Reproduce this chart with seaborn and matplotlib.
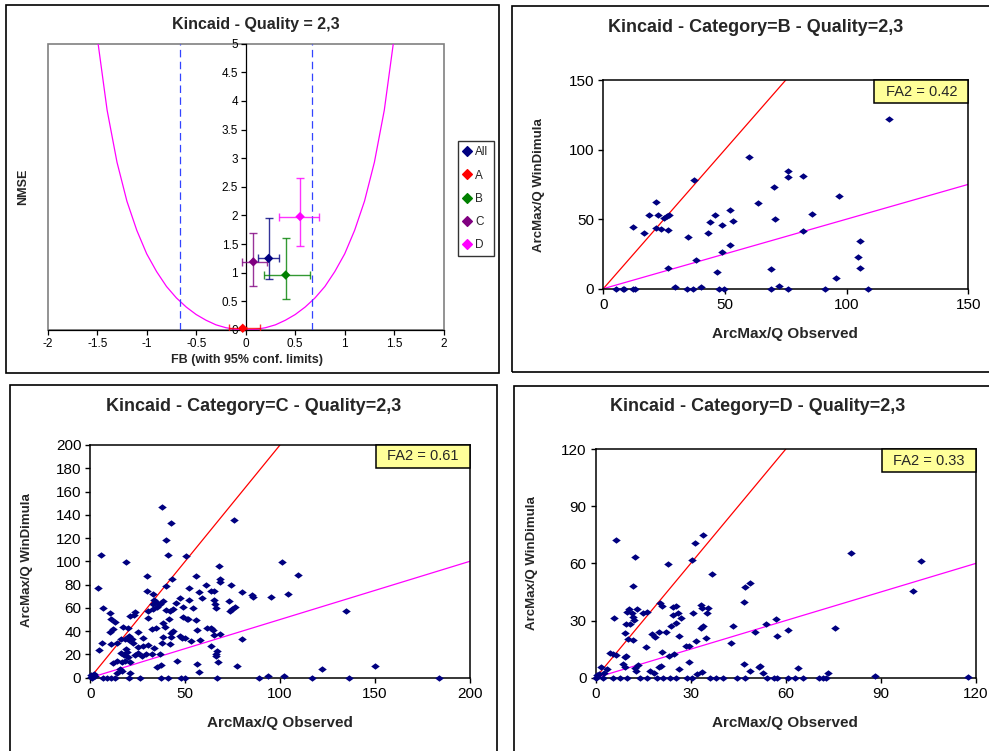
import numpy as np
import pandas as pd
import matplotlib
matplotlib.use("Agg")
import matplotlib.pyplot as plt
import seaborn as sns
from matplotlib.patches import Rectangle
from matplotlib.lines import Line2D
from matplotlib.path import Path

# ---------------- DATA ----------------
# Panel 1: FB vs NMSE with 95% confidence limits
groups = ["All", "A", "B", "C", "D"]
group_colors = ["#000080", "#FF0000", "#008000", "#800080", "#FF00FF"]
fb_mean = [0.232, -0.03, 0.404, 0.077, 0.549]
fb_low = [0.121, -0.17, 0.185, -0.034, 0.333]
fb_high = [0.340, 0.14, 0.646, 0.212, 0.744]
nmse_mean = [1.25, 0.03, 0.96, 1.19, 1.98]
nmse_low = [0.89, 0.01, 0.55, 0.77, 1.46]
nmse_high = [1.95, 0.05, 1.61, 1.69, 2.65]
fb_factor2_limits = [-0.667, 0.667]
# minimum-NMSE reference curve
curve_fb = [-1.49, -1.4, -1.3, -1.2, -1.1, -1.0, -0.9, -0.8, -0.7, -0.6, -0.5, -0.4,
            -0.3, -0.2, -0.1, 0.0, 0.1, 0.2, 0.3, 0.4, 0.5, 0.6, 0.7, 0.8, 0.9, 1.0,
            1.1, 1.2, 1.3, 1.4, 1.49]
curve_nmse = [4.99, 3.84, 2.93, 2.25, 1.74, 1.33, 1.02, 0.76, 0.56, 0.40, 0.27, 0.17,
              0.09, 0.04, 0.01, 0.0, 0.01, 0.04, 0.09, 0.17, 0.27, 0.40, 0.56, 0.76,
              1.02, 1.33, 1.74, 2.25, 2.93, 3.84, 4.99]
fb_ticks = [-2, -1.5, -1, -0.5, 0, 0.5, 1, 1.5, 2]
nmse_ticks = [0, 0.5, 1, 1.5, 2, 2.5, 3, 3.5, 4, 4.5, 5]

# factor-of-two lines
fa2_upper_slope = 2.0
fa2_lower_slope = 0.5

# Panel 2: Category B
b_obs = [117.5, 59.7, 37.3, 75.8, 75.8, 82.2, 70.1, 97.0, 63.6, 21.8, 18.6, 22.5, 25.1, 27.1,
         26.3, 12.3, 21.8, 23.7, 26.6, 16.8, 34.8, 45.8, 43.8, 52.1, 53.4, 48.9, 43.0, 85.6,
         70.7, 82.2, 52.1, 48.9, 37.9, 26.4, 46.8, 68.9, 105.3, 104.8, 105.3, 95.8, 72.1,
         5.2, 7.9, 8.5, 12.3, 13.2, 29.6, 34.2, 36.7, 40.0, 47.5, 49.7, 68.9, 75.8, 91.2, 108.6]
b_sim = [121.7, 94.4, 78.1, 84.6, 80.3, 81.0, 73.1, 66.9, 61.6, 62.3, 53.0, 53.0, 51.0, 53.0,
         52.2, 44.1, 43.9, 43.1, 42.2, 39.8, 36.9, 53.0, 47.7, 56.3, 48.6, 45.8, 39.8, 53.9,
         50.3, 41.5, 31.6, 26.1, 20.4, 14.9, 12.2, 14.1, 34.5, 23.0, 15.1, 7.9, 1.7,
         0, 0, 0, 0, 0, 1.0, 0, 0, 1.0, 0, 0, 0, 0, 0, 0]
b_fa2 = "FA2 = 0.42"

# Panel 3: Category C
c_obs = [37.6, 42.4, 75.9, 39.7, 40.8, 50.4, 5.6, 18.6, 101.1, 67.7, 109.3, 30.1, 55.5, 68.4,
         68.4, 43.2, 3.9, 52.2, 61.2, 74.2, 79.9, 85.4, 85.8, 95.4, 104.4, 29.9, 39.9, 57.5,
         63.6, 65.4, 58.7, 65.4, 65.7, 66.1, 73.3, 73.7, 74.6, 76.5, 134.8, 6.9, 10.6, 11.0,
         13.1, 32.9, 33.6, 34.6, 32.9, 35.4, 36.8, 38.2, 33.2, 30.2, 23.7, 22.9, 20.9, 39.9,
         41.8, 45.0, 43.8, 48.7, 52.0, 54.3, 47.3, 41.5, 48.7, 50.8, 51.7, 55.5, 30.6, 34.6,
         32.5, 38.5, 39.4, 38.5, 38.0, 42.0, 42.8, 42.5, 43.8, 47.3, 48.5, 50.1, 52.9, 56.1,
         57.7, 61.4, 63.6, 64.9, 65.4, 68.4, 63.5, 66.8, 66.5, 66.2, 67.5, 79.9, 77.5, 56.1,
         57.5, 45.7, 37.4, 36.7, 32.3, 29.3, 33.7, 30.6, 27.9, 25.3, 25.1, 23.6, 27.2, 22.7,
         22.1, 20.2, 18.3, 16.2, 14.2, 11.0, 10.4, 11.8, 17.4, 20.0, 20.6, 25.3, 27.9, 18.8,
         19.2, 16.0, 17.9, 20.0, 20.9, 18.3, 16.6, 14.0, 12.1, 15.6, 16.7, 14.0, 20.9, 4.6,
         6.2, 35.0, 122.1, 150.3, 93.9, 102.1,
         6.9, 8.6, 10.7, 13.0, 20.6, 26.2, 37.4, 40.8, 47.8, 49.9, 67.0, 88.9, 116.7, 136.4,
         183.7, 0.5, 1.0, 2.0, 1.0, 0.3, 2.5]
c_sim = [146.7, 133.0, 135.2, 118.6, 105.7, 104.3, 105.7, 99.1, 99.1, 96.0, 88.5, 87.4, 87.4,
         85.1, 82.2, 84.5, 76.8, 76.8, 79.9, 79.9, 73.6, 71.1, 69.3, 69.3, 71.6, 74.8, 78.8,
         73.6, 74.8, 74.8, 68.2, 66.8, 63.3, 59.9, 66.2, 57.3, 59.3, 61.0, 57.0, 59.9, 55.6,
         50.4, 48.1, 71.6, 66.8, 64.8, 63.3, 61.0, 63.3, 66.2, 58.7, 57.6, 56.7, 53.6, 53.3,
         58.2, 57.6, 63.9, 58.7, 61.0, 66.5, 59.6, 68.2, 50.1, 52.4, 50.1, 50.7, 49.6, 51.6,
         42.7, 41.8, 46.7, 43.8, 35.2, 29.5, 28.7, 35.2, 38.1, 40.4, 35.5, 33.8, 33.8, 31.5,
         41.0, 32.4, 42.4, 42.4, 40.7, 36.7, 37.5, 27.2, 23.2, 20.3, 18.6, 13.5, 33.5, 10.0,
         11.7, 4.6, 14.3, 10.9, 20.3, 20.1, 20.1, 25.8, 28.1, 27.5, 26.6, 21.0, 19.2, 18.6,
         29.5, 33.2, 32.4, 33.0, 33.2, 29.5, 28.7, 39.5, 41.5, 43.8, 42.4, 35.8, 39.0, 33.8,
         24.9, 21.8, 20.9, 19.2, 17.5, 13.8, 14.3, 13.2, 14.6, 12.3, 7.7, 5.7, 4.3, 3.7, 23.8,
         30.1, 9.5, 7.7, 10.0, 1.7, 1.7,
         0, 0, 0, 0, 0, 0, 0, 0, 0, 0, 0, 0, 0, 0,
         0, 2.0, 1.0, 3.0, 0.0, 0.5, 1.5]
c_fa2 = "FA2 = 0.61"

# Panel 4: Category D
d_obs = [6.4, 33.8, 31.2, 12.3, 22.8, 30.3, 36.7, 80.5, 102.5, 100.0, 11.9, 47.2, 48.8, 46.7,
         20.3, 20.9, 24.5, 25.2, 33.1, 33.5, 35.4, 35.2, 30.6, 5.9, 9.8, 10.6, 13.0, 11.6,
         11.7, 12.1, 9.6, 10.9, 16.1, 15.0, 24.5, 26.1, 26.8, 25.3, 23.8, 33.8, 33.1, 43.2,
         42.6, 50.3, 53.6, 56.8, 57.1, 60.7, 75.6, 9.3, 17.9, 18.8, 19.9, 22.2, 26.3, 34.8,
         11.9, 10.2, 31.7, 28.5, 29.4, 15.9, 20.8, 24.7, 23.0, 4.5, 5.6, 6.4, 9.6, 9.4, 8.7,
         9.1, 12.3, 13.4, 12.6, 1.6, 3.5, 2.7, 29.3, 26.3, 20.6, 19.9, 17.1, 18.4, 31.9, 33.6,
         46.7, 48.7, 51.4, 51.7, 52.7, 63.7, 73.2, 88.1, 117.6,
         2.4, 5.6, 7.7, 9.8, 14.0, 16.1, 19.2, 21.3, 23.4, 25.3, 28.7, 30.3, 36.1, 38.1, 40.2,
         44.5, 47.1, 53.9, 56.4, 57.1, 60.6, 63.0, 65.3, 70.6, 71.8, 72.8,
         0.3, 0.5, 1.0, 0.0]
d_sim = [72.1, 74.7, 70.8, 63.1, 59.8, 61.7, 54.6, 65.6, 61.2, 45.7, 48.3, 47.6, 49.5, 39.9,
         39.0, 37.6, 37.3, 37.6, 38.1, 36.4, 36.4, 34.1, 34.1, 31.5, 34.6, 35.9, 35.9, 34.1,
         31.7, 30.3, 28.2, 28.2, 34.6, 34.1, 32.9, 34.1, 31.5, 28.9, 27.3, 27.3, 25.9, 27.3,
         18.4, 23.8, 28.0, 30.6, 21.9, 25.0, 26.2, 23.6, 22.9, 21.2, 24.0, 24.0, 21.9, 21.0,
         19.8, 20.5, 19.2, 16.8, 16.8, 15.9, 13.3, 12.4, 11.4, 13.1, 12.4, 11.7, 11.5, 10.7,
         7.2, 5.8, 5.2, 6.5, 3.7, 5.4, 4.7, 2.3, 8.2, 4.4, 6.1, 5.4, 3.5, 2.3, 1.7, 3.0, 7.0,
         3.7, 5.8, 6.1, 2.6, 4.9, 2.3, 1.0, 0.5,
         0, 0, 0, 0, 0, 0, 0, 0, 0, 0, 0, 0, 0, 0, 0,
         0, 0, 0, 0, 0, 0, 0, 0, 0, 0, 0,
         1.5, 0.5, 2.0, 0.0]
d_fa2 = "FA2 = 0.33"

# ---------------- STYLE ----------------
sns.set_style("white")
plt.rcParams['font.family'] = ['Liberation Sans', 'DejaVu Sans']

W, H = 989, 751
fig = plt.figure(figsize=(W / 100, H / 100), dpi=100)
fig.patch.set_facecolor("white")


def rect_px(x0, y0, x1, y1):
    return [x0 / W, 1 - y1 / H, (x1 - x0) / W, (y1 - y0) / H]


def fx(px):
    return px / W


def fy(py):
    return 1 - py / H


def frame(x0, y0, x1, y1):
    fig.add_artist(Rectangle((x0 / W, 1 - y1 / H), (x1 - x0) / W, (y1 - y0) / H,
                             transform=fig.transFigure, fill=False, ec="black",
                             lw=1.2, zorder=0))


def diamond_path(aspect):
    return Path([(-1, 0), (0, aspect), (1, 0), (0, -aspect), (-1, 0)], closed=True)


scatter_marker = diamond_path(0.75)
tl_marker = diamond_path(1.0)

# outer chart frames
frame(6, 5, 499, 373)
frame(512, 6, 995, 372)
frame(10, 385, 497, 760)
frame(514, 386, 995, 760)

# ---------------- PANEL 1 ----------------
ax0 = fig.add_axes(rect_px(47.7, 43.7, 443.7, 330))
ax0.set_facecolor("white")
ax0.set_xlim(-2, 2)
ax0.set_ylim(0, 5)
ax0.add_patch(Rectangle((0, 0), 1, 1, transform=ax0.transAxes, fill=False,
                        ec="#808080", lw=1.2, clip_on=False, zorder=0.5))
for s in ["top", "right"]:
    ax0.spines[s].set_visible(False)
ax0.spines["left"].set_position(("data", 0))
ax0.spines["left"].set_color("black")
ax0.spines["left"].set_linewidth(0.9)
ax0.spines["bottom"].set_color("black")
ax0.spines["bottom"].set_linewidth(0.9)
ax0.set_xticks(fb_ticks)
ax0.set_yticks(nmse_ticks)
ax0.set_xticklabels([f"{v:g}" for v in fb_ticks])
ax0.set_yticklabels([f"{v:g}" for v in nmse_ticks])
ax0.tick_params(axis="both", direction="out", length=3.5, width=0.9, labelsize=8.5,
                pad=2, colors="black", left=True, bottom=True)

ax0.plot(curve_fb, curve_nmse, color="#FF00FF", lw=0.9, zorder=2)
for v in fb_factor2_limits:
    ax0.axvline(v, color="#3344FF", lw=0.9, dashes=(6, 3.5), zorder=2)

for i, g in enumerate(groups):
    ax0.errorbar([fb_mean[i]], [nmse_mean[i]],
                 xerr=[[fb_mean[i] - fb_low[i]], [fb_high[i] - fb_mean[i]]],
                 yerr=[[nmse_mean[i] - nmse_low[i]], [nmse_high[i] - nmse_mean[i]]],
                 fmt="none", ecolor=group_colors[i], alpha=0.8, elinewidth=1.0,
                 capsize=3, capthick=1.0, zorder=3)

df0 = pd.DataFrame({"FB": fb_mean, "NMSE": nmse_mean, "Group": groups})
sns.scatterplot(data=df0, x="FB", y="NMSE", hue="Group", palette=group_colors,
                hue_order=groups, marker=tl_marker, s=46, linewidth=0, ax=ax0,
                legend=False, zorder=4, clip_on=False)
ax0.set_xlabel("")
ax0.set_ylabel("")

fig.text(fx(256), fy(25), "Kincaid - Quality = 2,3", ha="center", va="center",
         fontsize=11.5, fontweight="bold")
fig.text(fx(23), fy(187), "NMSE", ha="center", va="center", rotation=90,
         fontsize=9, fontweight="bold")
fig.text(fx(247), fy(360), "FB (with 95% conf. limits)", ha="center", va="center",
         fontsize=9, fontweight="bold")

handles = [Line2D([], [], marker=tl_marker, ls="none", color=c, markersize=7)
           for c in group_colors]
leg = fig.legend(handles, groups, loc="upper left",
                 bbox_to_anchor=(fx(458), fy(141)), frameon=True, fancybox=False,
                 fontsize=8.5, labelspacing=0.95, handlelength=0.7, handletextpad=0.3,
                 borderpad=0.45, borderaxespad=0)
leg.get_frame().set_edgecolor("black")
leg.get_frame().set_linewidth(1.0)


# ---------------- SCATTER PANELS ----------------
def scatter_panel(px_box, obs, sim, lim, xstep, ystep, fa2_text, title, title_xy,
                  xlabel_xy, ylabel_xy):
    x0, y0, x1, y1 = px_box
    ax = fig.add_axes(rect_px(*px_box))
    ax.set_facecolor("white")
    df = pd.DataFrame({"obs": obs, "sim": sim})
    ax.axline((0, 0), slope=fa2_upper_slope, color="#FF0000", lw=0.9, zorder=2)
    ax.axline((0, 0), slope=fa2_lower_slope, color="#FF00FF", lw=0.9, zorder=2)
    sns.scatterplot(data=df, x="obs", y="sim", marker=scatter_marker, color="#000080",
                    s=38, linewidth=0, ax=ax, zorder=4, clip_on=False)
    ax.set_xlim(0, lim)
    ax.set_ylim(0, lim)
    ax.set_xticks(np.arange(0, lim + 0.1, xstep))
    ax.set_yticks(np.arange(0, lim + 0.1, ystep))
    ax.set_xticklabels([f"{v:g}" for v in np.arange(0, lim + 0.1, xstep)])
    ax.set_yticklabels([f"{v:g}" for v in np.arange(0, lim + 0.1, ystep)])
    for s in ax.spines.values():
        s.set_color("black")
        s.set_linewidth(1.1)
    ax.tick_params(axis="both", direction="out", length=3.5, width=1.0, labelsize=11,
                   pad=3, colors="black", left=True, bottom=True)
    ax.set_xlabel("")
    ax.set_ylabel("")
    # FA2 annotation box (94 x 23 px) at the top-right corner
    bw, bh = 94 / (x1 - x0), 23 / (y1 - y0)
    ax.add_patch(Rectangle((1 - bw, 1 - bh), bw, bh, transform=ax.transAxes,
                           fc="#FFFF99", ec="black", lw=1.1, zorder=5, clip_on=False))
    ax.text(1 - bw / 2, 1 - bh / 2, fa2_text, transform=ax.transAxes, ha="center",
            va="center", fontsize=10.5, zorder=6)
    fig.text(fx(title_xy[0]), fy(title_xy[1]), title, ha="center", va="center",
             fontsize=13, fontweight="bold")
    fig.text(fx(xlabel_xy[0]), fy(xlabel_xy[1]), "ArcMax/Q Observed", ha="center",
             va="center", fontsize=11, fontweight="bold")
    fig.text(fx(ylabel_xy[0]), fy(ylabel_xy[1]), "ArcMax/Q WinDimula", ha="center",
             va="center", rotation=90, fontsize=9.5, fontweight="bold")
    return ax


scatter_panel((603.3, 80, 968.3, 288.7), b_obs, b_sim, 150, 50, 50, b_fa2,
              "Kincaid - Category=B - Quality=2,3", (756, 27), (785, 334), (539, 185))
scatter_panel((90.3, 445, 469.7, 677.7), c_obs, c_sim, 200, 50, 20, c_fa2,
              "Kincaid - Category=C - Quality=2,3", (254, 406), (280, 723), (27, 560))
scatter_panel((595.7, 449, 976, 677.7), d_obs, d_sim, 120, 30, 30, d_fa2,
              "Kincaid - Category=D - Quality=2,3", (757.5, 406), (785, 723), (532, 563))

fig.savefig("out.png", dpi=100, facecolor="white")
